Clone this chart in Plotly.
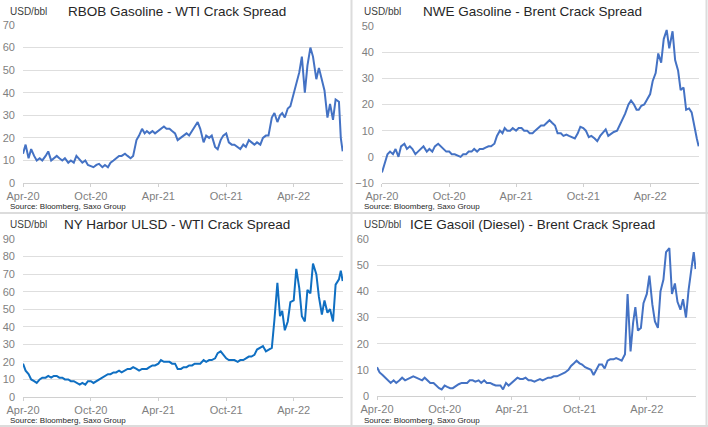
import pandas as pd
import plotly.graph_objects as go

# four readings per month, Apr-20 .. Jul-22, then a short Aug-22
months = pd.date_range("2020-04-01", "2022-07-01", freq="MS").strftime("%Y-%m")
dates = [f"{m}-{d:02d}" for m in months for d in (1, 8, 16, 23)]
dates += ["2022-08-01", "2022-08-06", "2022-08-11"]

tick_vals = ["2020-04-01", "2020-10-01", "2021-04-01", "2021-10-01", "2022-04-01"]
tick_text = ["Apr-20", "Oct-20", "Apr-21", "Oct-21", "Apr-22"]

rbob_wti = [
    13, 17, 11, 15,  12, 10, 11, 10,  12, 14, 10, 11,  12, 11, 10, 11,
    9, 10, 9, 12,  10, 9, 10, 8,  7.5, 7, 8, 8.5,  7, 8, 7, 9,
    10, 11, 12, 12,  13, 12, 11, 12,  19, 21, 24, 22,  23, 22, 23, 22,
    23, 24, 25, 24,  24, 23, 22, 19,  20, 21, 22, 21,  23, 25, 27, 24,
    18, 21, 20, 21,  16, 15, 19, 21,  22, 18, 17, 17,  16, 15, 17, 16,
    19, 18, 17, 18,  17, 20, 21, 21,  29, 31, 27, 30,  31, 29, 33, 34,
    40, 44, 49, 56,  40, 52, 60, 56,  46, 51, 45, 41,  29, 35, 28, 37,
    36, 20, 14,
]

nwe_brent = [
    -6, -3, 1, 2,  1, 3, 0, 4,  5, 3, 4, 3,  1, 2, 3, 4,
    2, 3, 2, 4,  5, 4, 3, 2,  2, 1, 1, 0.5,  0, 1, 1, 2,
    2, 3, 2, 3,  3, 3.5, 4, 4,  5, 8, 10, 9,  11, 10, 10, 11,
    10, 11, 11, 10,  10, 9, 9, 10,  11, 12, 12, 13,  14, 13, 12, 9,
    9, 8, 8.5, 8,  7.5, 7, 9, 11.5,  11, 10, 7.5, 8,  7, 6, 8, 9,
    10.5, 8, 9, 9.5,  10, 12, 14.5, 16.5,  20, 21.5, 20, 18,  18, 19.5, 20, 22,
    24, 29, 32, 39.5,  36, 45, 48.5, 41.5,  48, 37, 33, 25.5,  26.5, 18, 18.5, 17,
    10, 7, 4,
]

nyh_ulsd_wti = [
    19, 15, 13, 10,  9, 8, 10, 11,  11, 12, 11, 12,  12, 11, 11, 10,
    10, 9, 9, 8,  7, 8, 7, 9,  9, 8, 9, 10,  11, 12, 13, 13,
    14, 14, 15, 14,  15, 16, 16, 17,  16, 15, 16, 16,  16, 17, 18, 18,
    19, 21, 20, 20,  20, 19, 19, 16,  16, 17, 17, 18,  18, 19, 19, 19,
    21, 20, 21, 21,  22, 25, 26, 24,  22, 21, 21, 21,  20, 21, 21, 22,
    23, 23, 24, 27,  28, 29, 26, 27,  28, 44, 65, 46,  49, 38, 43, 54,
    55, 73, 62, 46,  43, 61, 59, 76,  70, 57, 47, 55,  48, 50, 43, 64,
    67, 72, 66,
]

ice_gasoil_brent = [
    11, 9, 8, 7,  6, 5, 6, 5,  6, 7, 6, 6.5,  7, 7.5, 7, 6.5,
    6, 7, 6, 5,  5, 4, 3, 2.5,  4, 3.5, 3, 3,  4, 4.5, 5, 5,
    5, 6, 6, 5.5,  6, 5, 6, 5,  5, 4.5, 4, 4,  4, 2.5, 5, 4,
    5, 6, 7, 6.5,  6.5, 7, 6, 6,  5.5, 6, 6.5, 6,  6.5, 7, 7, 7.5,
    7.5, 8, 8.5, 9,  10, 11.5, 12.5, 13.5,  12.5, 12, 11, 10.5,  10, 8, 10.5, 12,
    12, 10.5, 13.5, 14,  14, 14.5, 14, 13.5,  16, 39, 17, 28,  34, 25, 26, 35.5,
    39, 46, 35, 28.5,  26, 40, 44.5, 55,  56.5, 39, 43, 36,  33, 37, 30, 40.5,
    50, 55, 48.5,
]

panels = [
    ("RBOB Gasoline - WTI Crack Spread", rbob_wti, [0, 70], "#4472C4"),
    ("NWE Gasoline - Brent Crack Spread", nwe_brent, [-10, 50], "#4472C4"),
    ("NY Harbor ULSD - WTI Crack Spread", nyh_ulsd_wti, [0, 90], "#0F6FC2"),
    ("ICE Gasoil (Diesel) - Brent Crack Spread", ice_gasoil_brent, [0, 60], "#4472C4"),
]

# plot areas in paper fractions: (x0, x1, y0, y1)
domains = [
    (0.0325, 0.4845, 0.5714, 0.9415),
    (0.5395, 0.9873, 0.5714, 0.9391),
    (0.0325, 0.4845, 0.0703, 0.4403),
    (0.5325, 0.9830, 0.0726, 0.4403),
]

fig = go.Figure()
annotations = []
font = "Liberation Sans, Arial, sans-serif"

for i, ((title, values, yrange, color), dom) in enumerate(zip(panels, domains)):
    n = "" if i == 0 else str(i + 1)
    fig.add_trace(go.Scatter(
        x=dates, y=values, mode="lines",
        line=dict(color=color, width=2),
        xaxis="x" + n, yaxis="y" + n, showlegend=False,
    ))
    fig.layout["xaxis" + n] = dict(
        domain=[dom[0], dom[1]], anchor="y" + n, type="date",
        range=["2020-04-01", "2022-08-12"], automargin=False,
        tickvals=tick_vals, ticktext=tick_text,
        showgrid=False, showline=True, linecolor="#d0d0d0",
        ticks="outside", ticklen=3, tickcolor="#d0d0d0",
        tickfont=dict(size=11, color="#7f7f7f", family=font),
    )
    fig.layout["yaxis" + n] = dict(
        domain=[dom[2], dom[3]], anchor="x" + n, automargin=False,
        range=yrange, dtick=10, showgrid=True, gridcolor="#dedede",
        zeroline=False, showline=False, ticklabelstandoff=7,
        tickfont=dict(size=11, color="#7f7f7f", family=font),
    )
    top = 1 - (11 if i < 2 else 224.5) / 427
    bottom = 1 - (206 if i < 2 else 420) / 427
    left = (8 if i % 2 == 0 else 362) / 708
    center = (177 if i % 2 == 0 else 532) / 708
    annotations += [
        dict(text=title, x=center, y=top, xanchor="center", yanchor="middle",
             font=dict(size=13.5, color="#262626", family=font)),
        dict(text="USD/bbl", x=left, y=top, xanchor="left", yanchor="middle",
             font=dict(size=10, color="#404040", family=font)),
        dict(text="Source: Bloomberg, Saxo Group", x=left, y=bottom,
             xanchor="left", yanchor="middle",
             font=dict(size=8, color="#262626", family=font)),
    ]

for a in annotations:
    a.update(xref="paper", yref="paper", showarrow=False)

sep = dict(color="#dcdcdc", width=2)
shapes = [
    dict(type="line", xref="paper", yref="paper", x0=351.5 / 708, x1=351.5 / 708, y0=0, y1=1, line=sep),
    dict(type="line", xref="paper", yref="paper", x0=706.5 / 708, x1=706.5 / 708, y0=0, y1=1, line=sep),
    dict(type="line", xref="paper", yref="paper", x0=0, x1=1, y0=1 - 213 / 427, y1=1 - 213 / 427, line=sep),
    dict(type="line", xref="paper", yref="paper", x0=0, x1=1, y0=1 - 426 / 427, y1=1 - 426 / 427, line=sep),
]

fig.update_layout(
    width=708, height=427,
    margin=dict(l=0, r=0, t=0, b=0),
    paper_bgcolor="white", plot_bgcolor="white",
    annotations=annotations, shapes=shapes,
)

# drop the browser's default body margin so the figure sits at the page corner
fig.write_html(
    "out.html",
    config={"displayModeBar": False},
    post_script="document.body.style.margin = '0';",
)
